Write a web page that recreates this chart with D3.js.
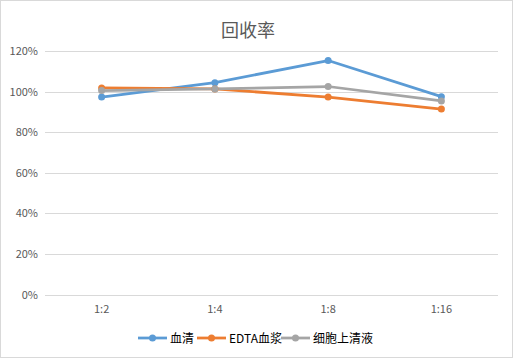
<!DOCTYPE html>
<html><head><meta charset="utf-8">
<script src="https://cdn.jsdelivr.net/npm/d3@7"></script>
<style>body{margin:0;background:#fff}svg{display:block}</style>
</head><body>
<script>
const categories = ["1:2","1:4","1:8","1:16"];
const seriesNames = ["血清","EDTA血浆","细胞上清液"];
const serum = [97.3,104.4,115.3,97.5];
const edta = [101.8,101.3,97.3,91.4];
const supernatant = [100.5,101.3,102.5,95.4];
const yTicks = [0,20,40,60,80,100,120];
const colors = ["#5B9BD5","#ED7D31","#A5A5A5"];
const title = "回收率";

const W=513,H=358;
const svg=d3.select("body").append("svg").attr("width",W).attr("height",H);
svg.append("rect").attr("x",0.5).attr("y",0.5).attr("width",W-1).attr("height",H-1).attr("fill","#fff").attr("stroke","#d9d9d9");
const font="'Microsoft YaHei','Noto Sans CJK SC',Calibri,'Liberation Sans',sans-serif";
const x=d3.scaleBand().domain(categories).range([45,498]);
const y=d3.scaleLinear().domain([0,120]).range([294.5,51]);

const g=svg.append("g");
g.selectAll("line.grid").data(yTicks).join("line").attr("class","grid")
 .attr("x1",45).attr("x2",498).attr("y1",d=>Math.round(y(d))+0.5).attr("y2",d=>Math.round(y(d))+0.5)
 .attr("stroke","#d9d9d9").attr("stroke-width",1);
g.selectAll("text.yl").data(yTicks).join("text").attr("class","yl")
 .attr("x",38).attr("y",d=>y(d)+4).attr("text-anchor","end")
 .attr("font-family",font).attr("font-size",11).attr("fill","#595959").text(d=>d+"%");
g.selectAll("text.xl").data(categories).join("text").attr("class","xl")
 .attr("x",d=>x(d)+x.bandwidth()/2).attr("y",313).attr("text-anchor","middle")
 .attr("font-family",font).attr("font-size",11).attr("fill","#595959").text(d=>d);

svg.append("text").attr("x",248).attr("y",37).attr("text-anchor","middle")
 .attr("font-family",font).attr("font-size",18).attr("fill","#595959").text(title);

const data=[serum,edta,supernatant];
const line=d3.line().x((d,i)=>x(categories[i])+x.bandwidth()/2).y(d=>y(d));
data.forEach((s,k)=>{
  svg.append("path").datum(s).attr("d",line).attr("fill","none").attr("stroke",colors[k]).attr("stroke-width",2.75).attr("stroke-linejoin","round");
});
data.forEach((s,k)=>{
  svg.selectAll(null).data(s).join("circle").attr("cx",(d,i)=>x(categories[i])+x.bandwidth()/2).attr("cy",d=>y(d)).attr("r",3.5).attr("fill",colors[k]);
});

// legend
const legX=[138,197,281];
seriesNames.forEach((n,k)=>{
  const lg=svg.append("g").attr("transform",`translate(${legX[k]},338)`);
  lg.append("line").attr("x1",0).attr("x2",29).attr("y1",0).attr("y2",0).attr("stroke",colors[k]).attr("stroke-width",2.75);
  lg.append("circle").attr("cx",14.5).attr("cy",0).attr("r",3.5).attr("fill",colors[k]);
  lg.append("text").attr("x",32).attr("y",4.5).attr("font-family",font).attr("font-size",12).attr("fill","#000").text(n);
});
</script>
</body></html>
